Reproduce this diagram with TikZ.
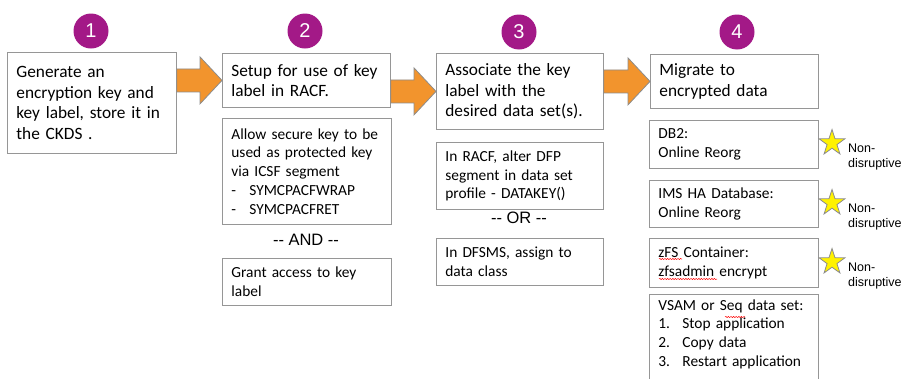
\documentclass[tikz,border=0pt]{standalone}
\usepackage{fontspec}
\setmainfont{Carlito}
\newfontfamily\arialfont{Liberation Sans}
\usetikzlibrary{calc,shapes.geometric,decorations.pathmorphing}
\definecolor{stepplum}{RGB}{163,25,135}
\definecolor{arroworange}{RGB}{242,148,45}
\definecolor{arrowgray}{RGB}{140,140,140}
\definecolor{boxgray}{RGB}{150,150,150}
\newcommand{\loosefit}{\rightskip=0pt plus 1fil minus 40pt\relax}
\newcommand{\stepflow}[2]{%
  \draw[fatarrow] ($(#1.east |- #2.west)+(0,-11.5)$) -- ($(#2.west)+(-22,-11.5)$)
    -- ($(#2.west)+(-22,-23.5)$) -- (#2.west) -- ($(#2.west)+(-22,23.5)$)
    -- ($(#2.west)+(-22,11.5)$) -- ($(#1.east |- #2.west)+(0,11.5)$) -- cycle;}
\tikzset{
  stepbox/.style={draw=boxgray, line width=0.8pt, fill=white, inner xsep=9pt, inner ysep=5pt,
    align=left, anchor=north west, font={\fontsize{17.3}{20.5}\selectfont\loosefit}},
  notebox/.style={stepbox, font={\fontsize{15.4}{18.7}\selectfont\loosefit}},
  numdot/.style={circle, fill=stepplum, text=white, minimum size=35pt, inner sep=0pt,
    font=\arialfont\fontsize{20}{20}\selectfont},
  fatarrow/.style={fill=arroworange, draw=arrowgray, line width=0.8pt},
  orlabel/.style={font=\arialfont\fontsize{16.5}{16.5}\selectfont},
  starmark/.style={star, star points=5, star point ratio=2.6, fill=yellow, draw=arrowgray,
    line width=0.8pt, minimum size=27pt, inner sep=0pt},
  nondis/.style={anchor=west, align=left, inner sep=0pt, font=\arialfont\fontsize{12.5}{15}\selectfont},
  squiggle/.style={red, line width=0.5pt, decorate, decoration={snake, amplitude=0.6pt, segment length=2.6pt}}
}
\begin{document}
\begin{tikzpicture}[x=1pt, y=-1pt]
\useasboundingbox (0,0) rectangle (907,378);
\node[numdot] (num1) at (91,31) {1};
\node[numdot] (num2) at (305,31) {2};
\node[numdot] (num3) at (519,32) {3};
\node[numdot] (num4) at (737,32) {4};
\node[stepbox, text width=151pt, minimum height=101pt] (box1) at (7,52) {Generate an\\encryption key and\\key label, store it in\\the CKDS .};
\node[stepbox, text width=150pt, minimum height=54pt] (box2) at (222,53) {Setup for use of key\\label in RACF.};
\node[notebox, text width=151pt, minimum height=106pt] (box2a) at (222,118) {Allow secure key to be\\used as protected key\\via ICSF segment\\\makebox[18pt][l]{-}SYMCPACFWRAP\\\makebox[18pt][l]{-}SYMCPACFRET};
\node[orlabel] (and2) at (306,240) {-- AND --};
\node[notebox, text width=151pt, minimum height=47pt] (box2b) at (222,258) {Grant access to key\\label};
\node[stepbox, text width=149pt, minimum height=76pt] (box3) at (436,53) {Associate the key\\label with the\\desired data set(s).};
\node[notebox, text width=149pt, minimum height=67pt] (box3a) at (436,142) {In RACF, alter DFP\\segment in data set\\profile - DATAKEY()};
\node[orlabel] (or3) at (519,218) {-- OR --};
\node[notebox, text width=149pt, minimum height=47pt] (box3b) at (436,238) {In DFSMS, assign to\\data class};
\node[stepbox, text width=150pt, minimum height=54pt] (box4) at (650,54) {Migrate to\\encrypted data};
\node[notebox, text width=151pt, minimum height=48pt] (box4a) at (649,120) {DB2:\\Online Reorg};
\node[notebox, text width=151pt, minimum height=47pt] (box4b) at (649,180) {IMS HA Database:\\Online Reorg};
\node[notebox, text width=151pt, minimum height=49pt] (box4c) at (649,238) {zFS Container:\\zfsadmin encrypt};
\node[notebox, text width=151pt] (box4d) at (649,294) {VSAM or Seq data set:\\\makebox[24pt][l]{1.}Stop application\\\makebox[24pt][l]{2.}Copy data\\\makebox[24pt][l]{3.}Restart application\\[30pt]\mbox{}};
\draw[squiggle] ($(box4c.north west)+(10,21)$) -- ++(23,0);
\draw[squiggle] ($(box4c.north west)+(10,41)$) -- ++(58,0);
\draw[squiggle] ($(box4d.north west)+(76,23)$) -- ++(20,0);
\node[starmark] (star4a) at (832,143) {};
\node[nondis] (note4a) at (848,157) {Non-\\disruptive};
\node[starmark] (star4b) at (832,203) {};
\node[nondis] (note4b) at (848,217) {Non-\\disruptive};
\node[starmark] (star4c) at (832,262) {};
\node[nondis] (note4c) at (848,276) {Non-\\disruptive};
\stepflow{box1}{box2}
\stepflow{box2}{box3}
\stepflow{box3}{box4}
\end{tikzpicture}
\end{document}
